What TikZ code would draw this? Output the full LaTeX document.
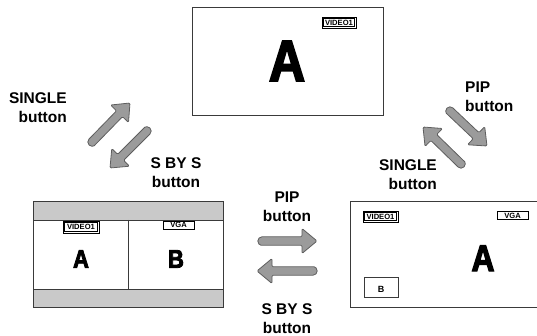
\documentclass[tikz,border=0pt]{standalone}
\usepackage{fontspec}
\setmainfont{Liberation Sans}
\usetikzlibrary{calc}
\definecolor{arrfill}{HTML}{9B9B9B}
\definecolor{arrline}{HTML}{5E5E5E}
\definecolor{bandgrey}{HTML}{C9C9C9}
\definecolor{framec}{HTML}{3A3A3A}
\tikzset{
  fatarrow/.style={fill=arrfill, draw=arrline, line width=0.8pt, line join=round,
    rounded corners=1.2pt,
    to path={let \p1=(\tikztostart), \p2=(\tikztotarget),
      \n1={atan2(\y2-\y1,\x2-\x1)}, \n2={veclen(\x2-\x1,\y2-\y1)} in
      ($(\p1)+({\n1+90}:4.2pt)$)
      -- ($(\p1)+({\n1+90}:4.2pt)+({\n1}:{\n2-15pt})$)
      -- ($(\p1)+({\n1+90}:12.5pt)+({\n1}:{\n2-15pt})$)
      -- (\p2)
      -- ($(\p1)+({\n1-90}:12.5pt)+({\n1}:{\n2-15pt})$)
      -- ($(\p1)+({\n1-90}:4.2pt)+({\n1}:{\n2-15pt})$)
      -- ($(\p1)+({\n1-90}:4.2pt)$) [sharp corners]
      arc[start angle={\n1-90}, end angle={\n1-270}, radius=4.2pt]
      -- cycle}},
  screen/.style={draw=framec, line width=0.9pt},
  btnlabel/.style={font=\bfseries\fontsize{15.5}{19.2}\selectfont, inner sep=0pt},
  biglet/.style={font=\bfseries\addfontfeatures{FakeBold=3.2,FakeStretch=0.86}\fontsize{#1}{#1}\selectfont, inner sep=0pt},
  smalllet/.style={font=\bfseries\fontsize{#1}{#1}\selectfont, inner sep=0pt},
  vin/.style={draw=black, line width=0.5pt, inner sep=0pt,
    font=\bfseries\fontsize{7.6}{7.6}\selectfont},
  outerbox/.style={draw=black, line width=0.5pt}
}
\begin{document}
\begin{tikzpicture}[x=1pt, y=-1pt]
\useasboundingbox (0,0) rectangle (537,336);
% top screen (single)
\draw[screen, fill=white] (192,7) rectangle (383,115);
\node[biglet=58] (topA) at (287,61) {A};
\node[vin, minimum width=31pt, minimum height=8pt] (topV) at (339,22.5) {VIDEO1};
\draw[outerbox] ($(topV.south west)+(-1.4pt,-1.4pt)$) rectangle ($(topV.north east)+(1.4pt,1.4pt)$);
% bottom-left screen (side by side)
\fill[bandgrey] (33,201) rectangle (223,220);
\fill[bandgrey] (33,289) rectangle (223,307);
\draw[screen] (33,201) rectangle (223,307);
\draw[screen] (33,220) -- (223,220);
\draw[screen] (33,289) -- (223,289);
\draw[screen] (128,220) -- (128,289);
\node[vin, minimum width=33pt, minimum height=9pt] (slV) at (81,227) {VIDEO1};
\draw[outerbox] ($(slV.south west)+(-1.4pt,-1.4pt)$) rectangle ($(slV.north east)+(1.4pt,1.4pt)$);
\node[vin, minimum width=31pt, minimum height=8pt] (slG) at (178.5,225) {VGA};
\node[biglet=25.5] (slA) at (81,259) {A};
\node[biglet=25.5] (slB) at (176,259) {B};
% bottom-right screen (pip)
\draw[screen] (350,201) rectangle (537,307);
\node[vin, minimum width=32pt, minimum height=7.5pt] (pV) at (380.5,216.5) {VIDEO1};
\draw[outerbox] ($(pV.south west)+(-1.4pt,-1.4pt)$) rectangle ($(pV.north east)+(1.4pt,1.4pt)$);
\node[vin, minimum width=31pt, minimum height=7.5pt] (pG) at (512.5,215.5) {VGA};
\node[biglet=37] (pA) at (483,258.3) {A};
\draw[screen] (364,277) rectangle (398,297);
\node[smalllet=9] (pB) at (381,289.5) {B};
% arrows
\coordinate (l1t) at (92,142);  \coordinate (l1h) at (130,103);
\coordinate (l2t) at (147,131); \coordinate (l2h) at (110,168);
\coordinate (r1t) at (450,111); \coordinate (r1h) at (487,146);
\coordinate (r2t) at (461,164); \coordinate (r2h) at (423,127);
\coordinate (b1t) at (262,241); \coordinate (b1h) at (317,241);
\coordinate (b2t) at (313,271); \coordinate (b2h) at (257,271);
\path[fatarrow] (l1t) to (l1h);
\path[fatarrow] (l2t) to (l2h);
\path[fatarrow] (r1t) to (r1h);
\path[fatarrow] (r2t) to (r2h);
\path[fatarrow] (b1t) to (b1h);
\path[fatarrow] (b2t) to (b2h);
% labels
\node[btnlabel, align=right, anchor=north east] (t1) at (67,92.5) {SINGLE\\button};
\node[btnlabel, align=center, anchor=north] (t2) at (176,157.5) {S BY S\\button};
\node[btnlabel, align=left, anchor=north west] (t3) at (465,81.5) {PIP\\button};
\node[btnlabel, align=right, anchor=north east] (t4) at (437,159.5) {SINGLE\\button};
\node[btnlabel, align=center, anchor=north] (t5) at (287,191.7) {PIP\\button};
\node[btnlabel, align=center, anchor=north] (t6) at (287,303.3) {S BY S\\button};
\end{tikzpicture}
\end{document}
